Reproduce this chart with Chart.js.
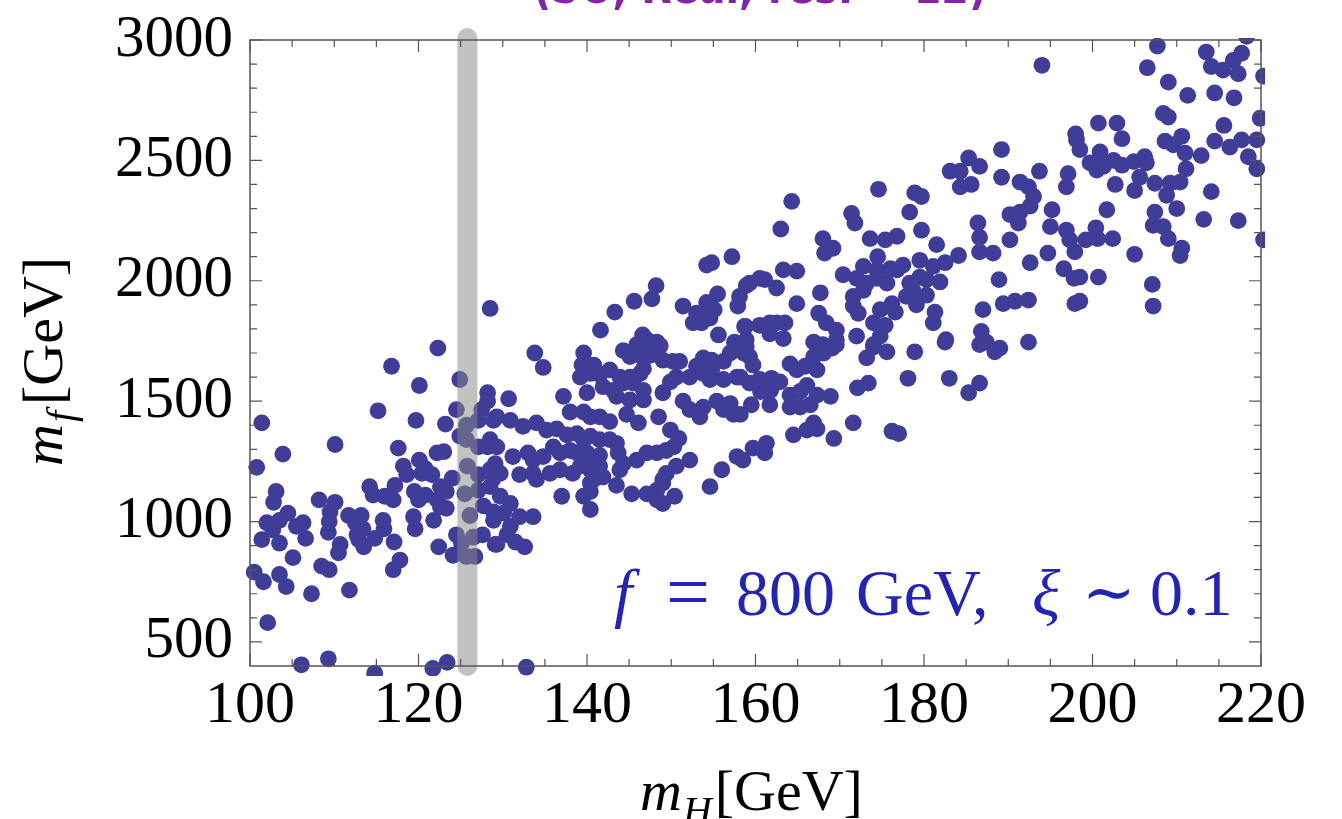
<!DOCTYPE html>
<html>
<head>
<meta charset="utf-8">
<script src="https://cdn.jsdelivr.net/npm/chart.js@4.4.0/dist/chart.umd.min.js"></script>
<style>
  body { margin: 0; background: #fff; }
  #wrap { width: 1342px; height: 819px; }
</style>
</head>
<body>
<div id="wrap"><canvas id="plot" width="1342" height="819"></canvas></div>
<script>
// m_H [GeV] of each scan point
var mH = [
 122.3,116.8,120.1,124.9,128.2,128.2,127.5,124.5,115.2,119.7,123.2,125.7,127.1,128.9,101.4,124.9,125.7,127.1,128.2,110.1,
 117.6,122.2,123.0,103.9,100.8,120.1,118.2,120.8,120.4,125.8,129.1,118.6,121.6,124.0,127.1,128.9,117.2,114.2,122.6,103.1,
 119.5,123.3,125.5,114.6,120.8,127.1,116.0,108.2,117.0,102.8,110.1,120.0,122.2,122.6,123.3,127.7,128.9,104.5,109.5,111.7,
 113.2,126.1,119.4,102.0,103.5,106.3,105.5,109.4,112.5,115.8,121.8,128.9,102.7,113.4,115.9,119.6,109.3,112.7,124.5,126.5,
 127.6,101.4,106.6,114.8,112.9,103.5,117.1,110.7,113.5,122.4,125.1,129.1,110.5,124.1,126.7,125.7,105.1,117.8,117.0,108.5,
 109.4,100.5,101.6,103.5,104.3,107.3,111.8,102.1,106.1,109.3,114.8,121.7,123.4,132.8,128.5,
 157.2,154.2,154.8,148.2,147.7,145.6,143.3,141.6,151.4,155.5,154.2,155.1,153.0,153.8,154.6,152.6,153.6,157.9,158.1,158.9,
 158.7,155.6,146.6,147.1,148.3,157.5,133.8,139.6,144.3,
 134.8,139.4,140.8,145.1,145.9,147.1,148.7,146.3,147.5,149.0,150.2,151.0,153.8,154.8,156.2,153.0,153.8,154.8,157.0,158.2,
 158.6,139.2,140.4,141.5,142.7,143.9,145.1,146.3,146.7,141.9,143.1,144.3,145.5,146.7,140.0,143.5,145.1,146.7,152.2,154.6,
 156.2,157.8,149.0,149.9,150.6,151.4,152.2,153.4,153.8,155.4,156.2,157.4,157.0,144.7,146.1,148.5,149.9,150.9,150.3,137.2,
 138.0,139.6,140.4,141.5,142.7,136.4,137.6,138.8,139.6,140.4,141.5,142.7,143.5,129.3,130.9,132.4,134.0,135.2,130.7,128.5,
 129.3,131.2,133.0,133.6,134.8,136.0,136.8,138.0,138.8,140.0,140.8,141.5,143.7,144.3,143.9,145.9,147.1,148.3,149.4,152.2,
 150.6,149.4,149.0,128.5,129.7,132.0,133.6,134.0,135.6,136.8,138.3,139.2,140.4,141.5,141.9,140.4,140.8,143.5,145.3,147.1,
 148.3,149.0,148.3,149.0,150.4,154.6,156.0,157.8,137.0,139.6,140.4,140.4,128.5,129.7,130.9,130.1,132.0,133.6,130.9,130.5,
 129.3,131.5,132.6,
 189.2,185.3,186.6,183.1,184.3,184.3,185.6,189.2,190.2,190.2,174.6,178.9,179.7,178.3,164.3,163.0,171.4,171.8,179.7,181.5,
 186.4,186.6,186.6,188.2,184.1,168.0,169.2,168.2,173.6,175.4,176.8,174.5,172.8,174.4,176.0,177.5,179.5,181.1,182.5,170.4,
 172.0,173.2,174.4,175.6,176.8,178.3,179.5,180.3,181.9,171.6,172.8,177.9,178.7,180.3,171.6,172.2,174.8,176.2,176.6,174.0,
 175.4,174.8,174.0,179.1,181.3,181.1,182.6,187.0,189.4,188.9,186.8,187.4,167.7,167.5,168.4,169.6,169.6,166.9,168.0,164.9,
 163.3,164.9,159.3,160.5,161.1,162.5,158.8,160.5,161.7,162.5,163.5,161.7,163.3,158.9,172.0,178.9,
 182.5,186.6,188.4,178.1,183.0,185.3,186.6,173.2,175.6,174.0,172.1,173.4,171.6,176.2,177.0,169.3,164.5,166.1,166.9,167.3,
 159.7,161.3,161.1,158.5,164.1,164.9,165.9,167.3,166.9,168.1,169.1,169.6,159.3,158.9,159.7,158.2,159.3,160.5,161.9,162.9,
 160.6,161.8,159.5,161.7,158.2,164.1,165.3,166.1,167.3,168.9,164.1,165.3,166.5,
 194.0,207.7,206.5,209.0,211.3,213.5,214.1,215.5,216.7,217.7,217.3,214.5,216.8,220.3,218.3,208.4,209.0,210.6,208.6,209.6,
 211.0,212.9,211.1,210.4,209.2,207.4,208.8,210.0,215.6,214.5,216.3,217.7,219.5,219.9,218.5,219.5,214.1,213.2,217.3,220.3,
 207.4,207.2,208.4,209.0,210.6,210.4,207.1,207.2,205.0,201.7,200.7,202.9,203.5,198.0,198.1,198.5,200.9,199.7,200.5,201.3,
 202.5,203.5,204.9,206.2,206.4,205.6,205.0,202.7,197.1,196.9,193.7,191.4,192.4,193.0,192.6,191.4,191.2,195.2,195.0,196.9,
 197.3,197.9,199.2,200.4,200.6,202.4,194.7,192.6,196.6,197.8,198.5,200.7,190.8,192.4,197.9,198.5,192.4,189.0
];
// m_f [GeV] of each scan point
var mf = [
 1720,1645,1565,1590,1535,1500,1465,1465,1460,1420,1405,1400,1420,1420,1410,1355,1340,1310,1310,1320,
 1305,1285,1290,1280,1225,1255,1230,1220,1200,1230,1240,1195,1195,1180,1195,1180,1150,1145,1145,1125,
 1125,1125,1115,1110,1110,1130,1105,1090,1090,1080,1080,1090,1090,1060,1055,1065,1040,1035,1040,1025,
 1025,1025,1020,995,1005,995,980,1000,995,1005,1005,1005,965,970,970,970,955,945,945,935,
 945,925,930,930,925,910,915,905,895,895,910,905,870,860,855,855,850,840,800,815,
 800,790,750,780,730,700,715,580,405,430,370,390,415,395,1885,
 2100,2065,2075,1980,1925,1915,1870,1795,1895,1945,1910,1880,1865,1870,1845,1825,1825,1895,1935,1980,
 1810,1775,1775,1755,1745,1745,1700,1700,1710,
 1640,1650,1650,1685,1735,1740,1730,1690,1690,1670,1665,1665,1680,1670,1665,1645,1615,1630,1700,1715,
 1700,1600,1615,1610,1630,1600,1600,1615,1635,1560,1545,1575,1575,1545,1535,1520,1505,1505,1600,1590,
 1590,1600,1535,1580,1600,1500,1465,1435,1475,1500,1465,1445,1490,1445,1410,1435,1380,1345,1310,1520,
 1455,1455,1435,1435,1415,1385,1360,1365,1340,1355,1340,1340,1325,1435,1420,1395,1410,1380,1510,1340,
 1310,1270,1285,1255,1270,1310,1285,1295,1285,1285,1255,1275,1285,1240,1215,1255,1285,1285,1295,1255,
 1230,1200,1175,1215,1200,1195,1200,1175,1200,1215,1200,1230,1215,1230,1185,1160,1175,1150,1115,1115,
 1130,1160,1090,1075,1105,1145,1215,1270,1105,1105,1125,1050,1145,1105,1075,1035,1020,1020,980,945,
 905,915,895,
 2545,2510,2475,2455,2455,2390,2400,2430,2275,2170,2380,2365,2350,2285,2330,2215,2280,2240,2210,2150,
 2240,2180,2120,2115,2105,2175,2135,2115,2175,2170,2185,2100,2060,2045,2050,2065,2085,2060,2075,2025,
 2010,1990,2010,1990,2045,1990,2015,2005,1995,1935,1960,1935,1960,1940,1895,1865,1880,1905,1870,1825,
 1815,1770,1735,1900,1870,1825,1755,1880,1905,2005,1790,1745,1950,1865,1825,1795,1755,1745,1735,1905,
 2045,2040,1990,2010,2005,1970,1810,1815,1825,1825,1825,1780,1760,1755,1770,1705,
 1745,1735,1705,1595,1595,1535,1575,1680,1705,1725,1555,1575,1410,1375,1365,1345,1360,1380,1410,1385,
 1305,1325,1285,1255,1655,1630,1645,1630,1685,1700,1720,1735,1685,1725,1650,1600,1575,1590,1595,1580,
 1540,1545,1485,1485,1445,1525,1540,1565,1525,1520,1475,1475,1485,
 2895,2975,2885,2825,2770,2950,2890,2875,2915,2945,2860,2780,2760,2850,3015,2695,2680,2600,2580,2565,
 2530,2520,2465,2410,2405,2405,2355,2300,2645,2580,2555,2585,2585,2675,2515,2465,2370,2255,2250,2170,
 2285,2230,2225,2175,2135,2105,1985,1895,2110,2295,2655,2655,2590,2610,2585,2545,2535,2490,2460,2475,
 2500,2480,2495,2515,2490,2430,2375,2400,2445,2390,2455,2410,2390,2350,2310,2285,2240,2295,2225,2210,
 2170,2120,2170,2220,2175,2175,2115,2075,2050,2010,2015,2015,1915,1920,1905,1915,1745,1720
];
var xTicks = [100, 120, 140, 160, 180, 200, 220];
var yTicks = [500, 1000, 1500, 2000, 2500, 3000];
var higgsBand = 125.8;   // measured Higgs mass, grey band

var points = [];
for (var i = 0; i < mH.length; i++) {
  points.push({ x: mH[i], y: mf[i] });
}

var serif = "'Liberation Serif', 'Times New Roman', serif";

// grey band at the Higgs mass, drawn over the dots
var bandPlugin = {
  id: 'band',
  afterDatasetsDraw: function(chart) {
    var c = chart.ctx, a = chart.chartArea;
    var px = chart.scales.x.getPixelForValue(higgsBand);
    c.save();
    c.strokeStyle = 'rgba(134,140,137,0.52)';
    c.lineWidth = 20;
    c.lineCap = 'round';
    c.beginPath();
    c.moveTo(px, a.top - 2);
    c.lineTo(px, a.bottom);
    c.stroke();
    c.restore();
  }
};

// Mathematica style frame with inward ticks on every side
var framePlugin = {
  id: 'frame',
  afterDraw: function(chart) {
    var c = chart.ctx, a = chart.chartArea;
    var sx = chart.scales.x, sy = chart.scales.y;
    c.save();
    c.strokeStyle = '#555';
    c.lineWidth = 1.5;
    c.strokeRect(a.left, a.top, a.right - a.left, a.bottom - a.top);
    c.lineWidth = 1.2;
    c.beginPath();
    for (var v = 100; v <= 220; v += 5) {
      var p = sx.getPixelForValue(v);
      var len = (v % 20 === 0) ? 12 : 7;
      c.moveTo(p, a.bottom); c.lineTo(p, a.bottom - len);
      c.moveTo(p, a.top); c.lineTo(p, a.top + len);
    }
    for (var w = 500; w <= 3000; w += 100) {
      var q = sy.getPixelForValue(w);
      var l2 = (w % 500 === 0) ? 12 : 7;
      c.moveTo(a.left, q); c.lineTo(a.left + l2, q);
      c.moveTo(a.right, q); c.lineTo(a.right - l2, q);
    }
    c.stroke();
    c.restore();
  }
};

function seg(c, txt, font, x, y) {
  c.font = font;
  c.fillText(txt, x, y);
  return x + c.measureText(txt).width;
}

// axis titles, annotation and the clipped heading
var textPlugin = {
  id: 'texts',
  afterDraw: function(chart) {
    var c = chart.ctx;
    c.save();
    c.fillStyle = '#000';
    c.textBaseline = 'alphabetic';
    c.textAlign = 'left';

    // x title: m_H[GeV]
    var x = seg(c, 'm', 'italic 58px ' + serif, 640, 810);
    x = seg(c, 'H', 'italic 40px ' + serif, x + 1, 824);
    seg(c, '[GeV]', '58px ' + serif, x + 3, 810);

    // y title: m_f[GeV]
    c.save();
    c.translate(62, 466);
    c.rotate(-Math.PI / 2);
    x = seg(c, 'm', 'italic 58px ' + serif, 0, 0);
    x = seg(c, 'f', 'italic 40px ' + serif, x + 2, 12);
    seg(c, '[GeV]', '58px ' + serif, x + 6, 0);
    c.restore();

    // annotation
    c.fillStyle = '#2424b2';
    seg(c, 'f', 'italic 66px ' + serif, 614, 615);
    seg(c, '=', '78px ' + serif, 666, 618);
    seg(c, '800', '66px ' + serif, 736, 615);
    seg(c, 'GeV,', '66px ' + serif, 856, 615);
    seg(c, '\u03BE', 'italic 66px ' + serif, 1032, 615);
    seg(c, '\u223C', '64px "DejaVu Serif", serif', 1082, 614);
    seg(c, '0.1', '66px ' + serif, 1150, 615);

    // heading, mostly cut off at the top of the picture
    c.fillStyle = '#8425a6';
    c.font = 'bold 52px "DejaVu Sans", sans-serif';
    var head = '(SO, Real, res. ~ 12)';
    var hw = c.measureText(head).width;
    c.save();
    c.translate(533, 3);
    c.scale(454 / hw, 1);
    c.fillText(head, 0, 0);
    c.restore();

    c.restore();
  }
};

var ctx = document.getElementById('plot');
var chart = new Chart(ctx, {
  type: 'scatter',
  data: {
    datasets: [{
      data: points,
      backgroundColor: '#403d99',
      borderColor: '#403d99',
      borderWidth: 0,
      pointRadius: 8.4,
      pointHoverRadius: 8.4,
      clip: { left: 4, top: 2, right: 4, bottom: 10 }
    }]
  },
  options: {
    responsive: false,
    animation: false,
    events: [],
    layout: { padding: { left: 0, top: 40, right: 81, bottom: 0 } },
    plugins: {
      legend: { display: false },
      tooltip: { enabled: false }
    },
    scales: {
      x: {
        type: 'linear',
        min: 100, max: 220,
        grid: { display: false, drawTicks: false },
        border: { display: false },
        afterBuildTicks: function(s) {
          s.ticks = xTicks.map(function(v) { return { value: v }; });
        },
        ticks: {
          color: '#000',
          padding: 4,
          maxRotation: 0,
          font: { family: serif, size: 60 },
          callback: function(v) { return String(v); }
        },
        afterFit: function(s) {
          s.height = 153;
          s.paddingLeft = 0; s.paddingRight = 0;
        }
      },
      y: {
        type: 'linear',
        min: 400, max: 3000,
        grid: { display: false, drawTicks: false },
        border: { display: false },
        afterBuildTicks: function(s) {
          s.ticks = yTicks.map(function(v) { return { value: v }; });
        },
        ticks: {
          color: '#000',
          padding: 17,
          font: { family: serif, size: 59 },
          callback: function(v) { return String(v); }
        },
        afterFit: function(s) {
          s.width = 250;
          s.paddingTop = 0; s.paddingBottom = 0;
        }
      }
    }
  },
  plugins: [bandPlugin, framePlugin, textPlugin]
});
</script>
</body>
</html>
